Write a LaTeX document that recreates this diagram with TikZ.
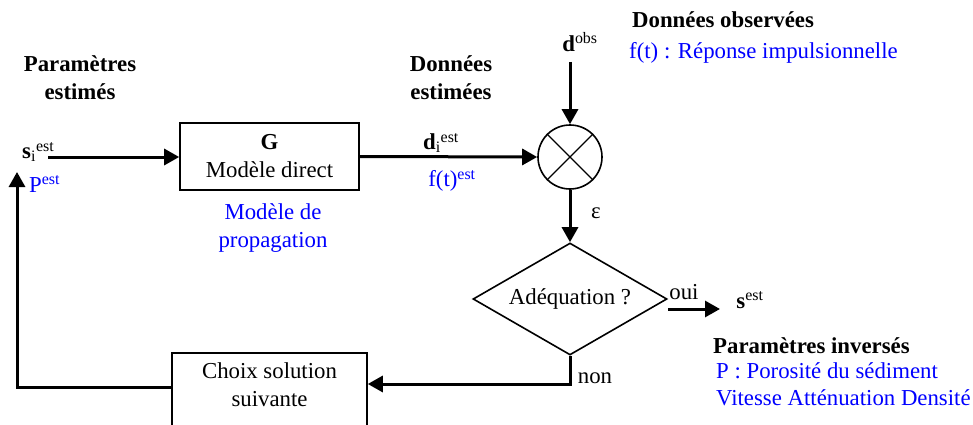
\documentclass[tikz,border=0pt]{standalone}
\usepackage{fontspec}
\setmainfont{Liberation Serif}
\usepackage{xcolor}
\usetikzlibrary{arrows.meta,shapes.geometric}
\definecolor{note}{HTML}{0000FF}
\tikzset{
  lbl/.style={font=\fontsize{22.8}{28}\selectfont, align=center, inner sep=0pt},
  head/.style={lbl, font=\fontsize{22.8}{28}\selectfont\bfseries},
  note/.style={lbl, text=note},
  blk/.style={lbl, draw, line width=1.6pt, minimum width=179pt, minimum height=67pt},
  flow/.style={line width=3pt, -{Triangle[length=15pt,width=16pt]}}
}

\begin{document}
\begin{tikzpicture}[x=1pt, y=-1pt]
\useasboundingbox (0,0) rectangle (973,425);

% estimated parameters
\node[head] (pe) at (80,78) {Paramètres\\estimés};
\node[lbl, anchor=west] (si) at (22,152) {\textbf{s}\textsubscript{i}\textsuperscript{est}};
\node[note, anchor=west] (pest) at (29,184) {P\textsuperscript{est}};
\coordinate (sin) at (48,157);

% direct model
\node[blk] (g) at (269.5,156.5) {\textbf{G}\\Modèle direct};
\node[note] (prop) at (273,228) {Modèle de\\propagation};

% estimated data
\node[head] (de) at (451,78) {Données\\estimées};
\node[lbl] (di) at (441,143) {\textbf{d}\textsubscript{i}\textsuperscript{est}};
\node[note] (ft) at (452,181) {f(t)\textsuperscript{est}};

% comparison
\node[circle, draw, line width=1.6pt, minimum size=64pt, inner sep=0pt] (cmp) at (570,157) {};
\draw[line width=1.2pt] (cmp.north west) -- (cmp.south east);
\draw[line width=1.2pt] (cmp.north east) -- (cmp.south west);
\node[lbl] (dobs) at (580,42) {\textbf{d}\textsuperscript{obs}};
\coordinate (dtop) at (570,62);
\node[head, anchor=west] (dob) at (632,20) {Données observées};
\node[note, anchor=west] (rep) at (629,53) {f(t) : Réponse impulsionnelle};
\node[lbl] (eps) at (596,213) {ε};

% test
\node[diamond, draw, line width=1.6pt, minimum width=194pt, minimum height=112pt, aspect=1.73, inner sep=0pt, font=\fontsize{22.8}{28}\selectfont] (dia) at (570,299) {Adéquation ?};
\node[lbl] (oui) at (684,292) {oui};
\coordinate (out) at (668,309);
\coordinate (outend) at (720,309);
\node[lbl] (sout) at (750,300) {\textbf{s}\textsuperscript{est}};
\node[lbl] (non) at (595,378) {non};

% inverted parameters
\node[head, anchor=west] (pinv) at (713,346) {Paramètres inversés};
\node[note, anchor=west] (por) at (716,371) {P : Porosité du sédiment};
\node[note, anchor=west] (vit) at (716,398) {Vitesse Atténuation Densité};

% next solution
\node[blk, minimum width=195pt, minimum height=80pt, anchor=north] (choix) at (269.5,352) {};
\node[lbl] (choixt) at (269.5,385) {Choix solution\\suivante};
\coordinate (ret) at (570,384);
\coordinate (back) at (17,387);
\coordinate (pup) at (17,172);

% arrows
\draw[flow] (sin) -- (sin -| g.west);
\draw[flow] (g.east) -- (cmp.west);
\draw[flow] (dtop) -- (cmp.north);
\draw[flow] (cmp.south) -- (dia.north);
\draw[flow] (out) -- (outend);
\draw[flow] (dia.south) -- (ret) -- (ret -| choix.east);
\draw[flow] (back -| choix.west) -- (back) -- (pup);
\end{tikzpicture}
\end{document}
